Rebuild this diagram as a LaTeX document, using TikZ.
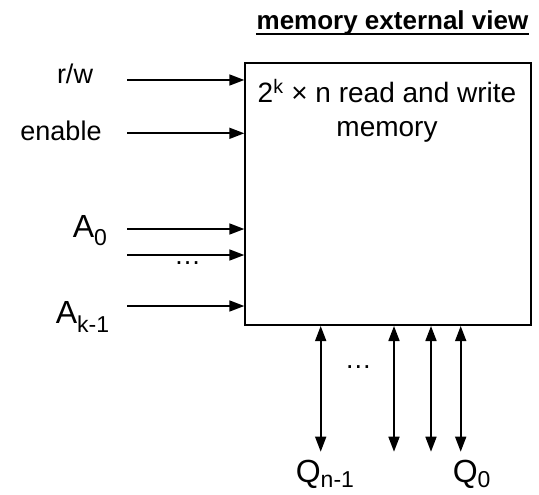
\documentclass[tikz,border=0pt]{standalone}
\usepackage{fontspec}
\setmainfont{Liberation Sans}
\usetikzlibrary{arrows.meta}
\begin{document}
\begin{tikzpicture}[x=1pt,y=-1pt,
  line width=1.7pt,
  tipa/.style={-{Triangle[length=15pt,width=11pt]}},
  tipb/.style={{Triangle[length=15pt,width=11pt]}-{Triangle[length=15pt,width=11pt]}},
  lbl/.style={inner sep=0pt,font=\fontsize{27}{30}\selectfont},
  big/.style={inner sep=0pt,font=\fontsize{32}{36}\selectfont},
  dots/.style={inner sep=0pt,anchor=base,font=\fontsize{27}{30}\selectfont}]
\path[use as bounding box] (0,0) rectangle (539,495);
% title
\node[inner sep=0pt,anchor=base,font=\fontsize{26}{30}\selectfont\bfseries] (title) at (392.5,30) {memory external view};
\draw[line width=2pt] ([yshift=-4pt]title.base west) -- ([yshift=-4pt]title.base east);
% memory box
\node[draw,inner sep=0pt,minimum width=285.7pt,minimum height=262pt,anchor=north west] (box) at (244.3,62.3) {};
\node[inner sep=0pt,anchor=base,align=center,font=\fontsize{28}{34}\selectfont] (boxtext) at (387,136.7) {2\textsuperscript{k} × n read and write\\memory};
% input labels
\node[lbl,anchor=base] (rwl) at (75,83.3) {r/w};
\node[lbl,anchor=base] (enl) at (61,140) {enable};
\node[big,anchor=base west] (a0l) at (72,237) {A\raisebox{-8pt}{\fontsize{23}{25}\selectfont 0}};
\node[big,anchor=base west] (akl) at (55,323) {A\raisebox{-9pt}{\fontsize{23}{25}\selectfont k-1}};
% input arrows
\coordinate (rw) at (127,80);
\coordinate (en) at (127,133.3);
\coordinate (a0) at (127,229);
\coordinate (a1) at (127,255);
\coordinate (ak) at (127,306);
\draw[tipa] (rw) -- (rw -| box.west);
\draw[tipa] (en) -- (en -| box.west);
\draw[tipa] (a0) -- (a0 -| box.west);
\draw[tipa] (a1) -- (a1 -| box.west);
\draw[tipa] (ak) -- (ak -| box.west);
\node[dots] (ldots) at (187.5,264) {…};
% output arrows
\coordinate (q1) at (320.7,451.7);
\coordinate (q2) at (394,451.7);
\coordinate (q3) at (431,451.7);
\coordinate (q4) at (460.7,451.7);
\draw[tipb] (q1 |- box.south) -- (q1);
\draw[tipb] (q2 |- box.south) -- (q2);
\draw[tipb] (q3 |- box.south) -- (q3);
\draw[tipb] (q4 |- box.south) -- (q4);
\node[dots] (bdots) at (358.3,368.5) {…};
% output labels
\node[big,anchor=base west] (qnl) at (295,482) {Q\raisebox{-5pt}{\fontsize{23}{25}\selectfont n-1}};
\node[big,anchor=base west] (q0l) at (452,482) {Q\raisebox{-5pt}{\fontsize{23}{25}\selectfont 0}};
\end{tikzpicture}
\end{document}
